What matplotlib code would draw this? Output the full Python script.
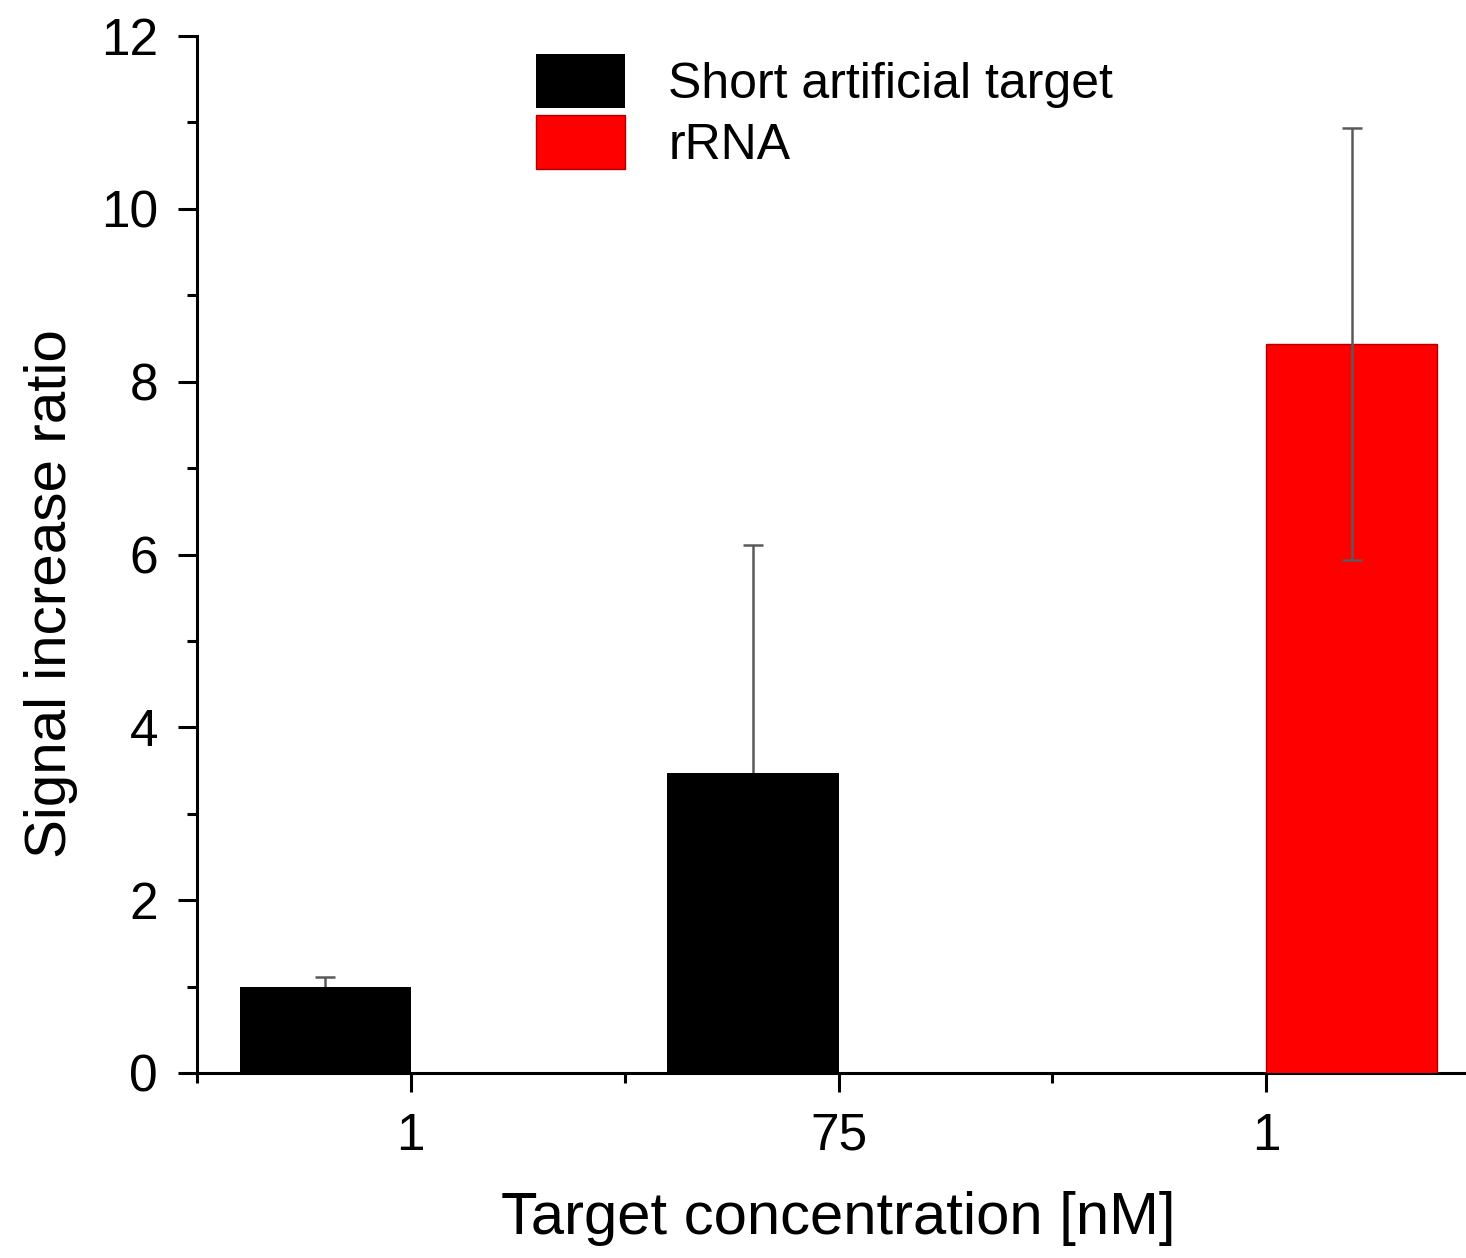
import numpy as np
import matplotlib
matplotlib.use("Agg")
import matplotlib.pyplot as plt
from matplotlib.ticker import MultipleLocator, FixedLocator

plt.rcParams['font.family'] = ['Liberation Sans', 'DejaVu Sans']

# concentrations [nM] and measured signal ratios
tick_labels = ["1", "75", "1"]
short_pos = [1, 2]
short_vals = [1.0, 3.47]
short_err = [0.11, 2.64]
rrna_pos = [3]
rrna_vals = [8.44]
rrna_err = [2.5]

bar_w = 0.4

fig = plt.figure(figsize=(14.66, 12.58), dpi=100)
ax = fig.add_axes([197 / 1466, 185 / 1258, 1283 / 1466, 1037 / 1258])

ax.bar(short_pos, short_vals, width=-bar_w, align='edge', color='black',
       label='Short artificial target', zorder=3)
ax.errorbar(np.array(short_pos) - bar_w / 2, short_vals, yerr=short_err, fmt='none',
            ecolor='#5a5a5a', elinewidth=1.8, capsize=7, capthick=1.8, zorder=2)

ax.bar(rrna_pos, rrna_vals, width=bar_w, align='edge', color='#ff0000',
       edgecolor='#b00000', linewidth=1, label='rRNA', zorder=3)
ax.errorbar(np.array(rrna_pos) + bar_w / 2, rrna_vals, yerr=rrna_err, fmt='none',
            ecolor='#5a5a5a', elinewidth=1.8, capsize=7, capthick=1.8, zorder=4)

ax.set_xlim(0.5, 3.5)
ax.set_ylim(0, 12)

ax.set_xticks([1, 2, 3])
ax.set_xticklabels(tick_labels)
ax.xaxis.set_minor_locator(FixedLocator([0.5, 1.5, 2.5]))
ax.yaxis.set_major_locator(MultipleLocator(2))
ax.yaxis.set_minor_locator(MultipleLocator(1))

for side in ['top', 'right']:
    ax.spines[side].set_visible(False)
for side in ['left', 'bottom']:
    ax.spines[side].set_linewidth(2.2)

ax.tick_params(axis='both', which='major', direction='out', length=14, width=2.2,
               labelsize=37, pad=14)
ax.tick_params(axis='both', which='minor', direction='out', length=7, width=2.2)

ax.set_xlabel('Target concentration [nM]', fontsize=43, labelpad=22)
ax.set_ylabel('Signal increase ratio', fontsize=42)
ax.yaxis.set_label_coords(-0.093, 0.462)

ax.legend(loc='upper left', bbox_to_anchor=(0.264, 0.983), fontsize=36, frameon=False,
          handlelength=1.78, handleheight=1.3, handletextpad=0.87,
          labelspacing=0.13, borderpad=0, borderaxespad=0)

fig.savefig('out.png', dpi=100)
